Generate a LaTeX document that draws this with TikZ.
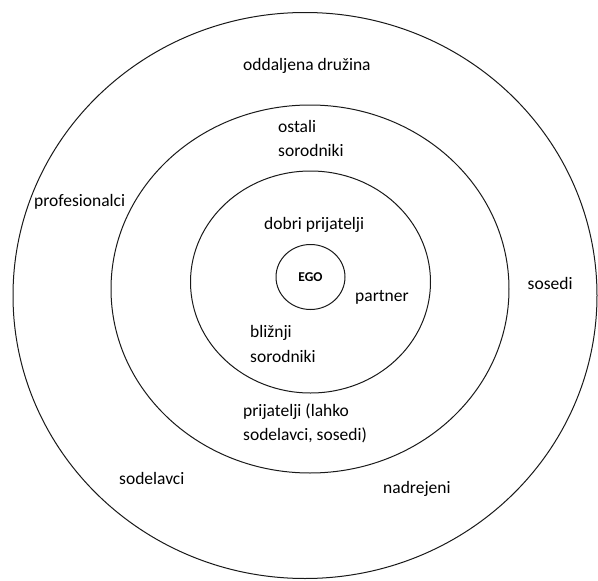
\documentclass[tikz,border=0pt]{standalone}
\usepackage{fontspec}
\setmainfont{Carlito}
\usetikzlibrary{shapes.geometric}
\begin{document}
\begin{tikzpicture}[x=1pt,y=-1pt,
  ring/.style={ellipse,draw=black!90,line width=1pt,inner sep=0pt},
  lbl/.style={inner sep=0pt,anchor=west,align=left,text=black,
    font=\fontsize{17.5}{24.5}\selectfont}]
\useasboundingbox (0,0) rectangle (598,581);
\node[ring,minimum width=584pt,minimum height=566pt] (outer) at (305,295.5) {};
\node[ring,minimum width=398pt,minimum height=368pt] (middle) at (310,289) {};
\node[ring,minimum width=240pt,minimum height=222pt] (inner) at (310.5,282) {};
\node[ring,minimum width=69pt,minimum height=65pt,
  font=\fontsize{13.5}{15}\selectfont\bfseries] (ego) at (310.5,277) {EGO};
\node[lbl] (oddaljena) at (243,66) {oddaljena družina};
\node[lbl] (ostali) at (278,138.5) {ostali\\sorodniki};
\node[lbl] (profesionalci) at (34,202) {profesionalci};
\node[lbl] (dobri) at (264,225) {dobri prijatelji};
\node[lbl] (partner) at (355,297.5) {partner};
\node[lbl] (sosedi) at (527.5,283) {sosedi};
\node[lbl] (blizni) at (250,344) {bližnji\\sorodniki};
\node[lbl] (prijatelji) at (243,423.5) {prijatelji (lahko\\sodelavci, sosedi)};
\node[lbl] (sodelavci) at (119,478) {sodelavci};
\node[lbl] (nadrejeni) at (383,489) {nadrejeni};
\end{tikzpicture}
\end{document}
